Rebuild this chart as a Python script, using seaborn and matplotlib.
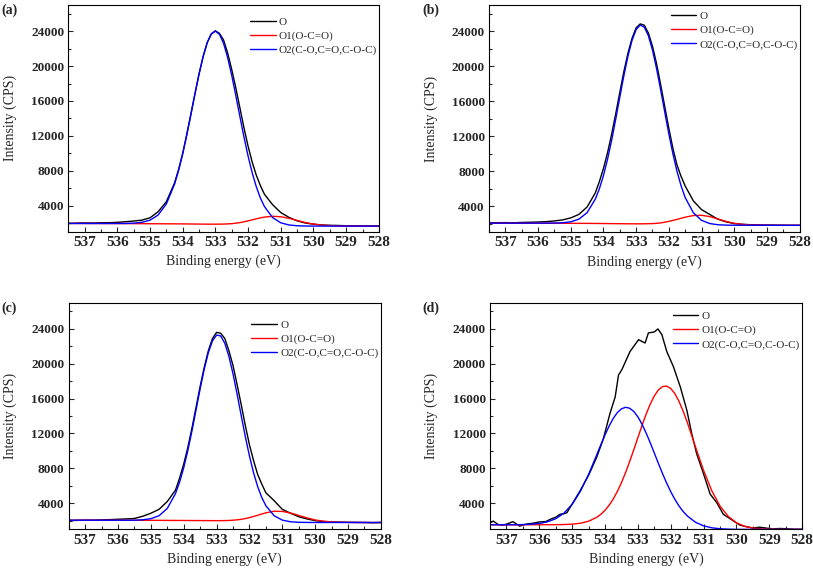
import numpy as np
import pandas as pd
import matplotlib
matplotlib.use('Agg')
import matplotlib.pyplot as plt
from matplotlib.ticker import MultipleLocator
import seaborn as sns

# binding energy grid (eV): finer steps across the main peak
energy = [537.5, 537.25, 537.0, 536.75, 536.5, 536.25, 536.0, 535.75, 535.5, 535.25,
          535.0, 534.75, 534.5, 534.25,
          534.125, 534.0, 533.875, 533.75, 533.625, 533.5, 533.375, 533.25, 533.125,
          533.0, 532.875, 532.75, 532.625, 532.5, 532.375, 532.25, 532.125, 532.0,
          531.875, 531.75, 531.625,
          531.5, 531.25, 531.0, 530.75, 530.5, 530.25, 530.0, 529.75, 529.5, 529.25,
          529.0, 528.75, 528.5, 528.25, 528.0]

# ---- (a) ----
a_O = [1960, 1990, 2010, 2000, 2030, 2040, 2080, 2150, 2230, 2330, 2600, 3300, 4450, 6600,
       8150, 10000, 12200, 14500, 16850, 19100, 21100, 22700, 23700, 24050, 23750, 23000,
       21500, 19600, 17500, 15200, 12900, 10800, 9000, 7500, 6300,
       5300, 4100, 3200, 2650, 2250, 2000, 1870, 1780, 1740, 1720, 1690, 1680, 1670, 1660, 1650]
a_O1 = [1950, 1950, 1950, 1945, 1945, 1940, 1940, 1935, 1930, 1925, 1920, 1915, 1910, 1905,
        1902, 1900, 1895, 1890, 1885, 1880, 1875, 1870, 1870, 1870, 1873, 1880, 1900, 1930,
        1980, 2050, 2140, 2250, 2365, 2480, 2590,
        2680, 2770, 2720, 2540, 2300, 2060, 1880, 1760, 1700, 1670, 1650, 1650, 1650, 1650, 1650]
a_O2 = [1950, 1950, 1950, 1950, 1950, 1950, 1950, 1950, 1990, 2080, 2325, 2925, 4190, 6455,
        8042, 9930, 12095, 14430, 16820, 19110, 21120, 22700, 23695, 24020, 23645, 22600,
        20980, 18930, 16615, 14200, 11850, 9670, 7772, 6175, 4882,
        3890, 2625, 2025, 1777, 1688, 1660, 1650, 1650, 1650, 1650, 1650, 1650, 1650, 1650, 1650]

# ---- (b) ----
b_O = [2080, 2100, 2110, 2090, 2130, 2150, 2180, 2220, 2300, 2420, 2650, 3050, 3900, 5500,
       6800, 8300, 10100, 12200, 14550, 17000, 19400, 21500, 23200, 24400, 24850, 24700,
       23800, 22300, 20300, 17900, 15400, 12900, 10600, 8700, 7400,
       6300, 4600, 3600, 3050, 2500, 2200, 2000, 1920, 1870, 1840, 1830, 1820, 1810, 1800, 1800]
b_O1 = [2050, 2050, 2050, 2048, 2046, 2044, 2042, 2040, 2038, 2035, 2030, 2025, 2020, 2015,
        2010, 2005, 2000, 1995, 1990, 1985, 1980, 1975, 1972, 1970, 1972, 1975, 1985, 2000,
        2030, 2080, 2155, 2250, 2360, 2480, 2605,
        2730, 2920, 2950, 2800, 2530, 2250, 2030, 1900, 1840, 1815, 1805, 1800, 1800, 1800, 1800]
b_O2 = [2050, 2050, 2050, 2050, 2050, 2050, 2050, 2050, 2060, 2095, 2200, 2510, 3250, 4785,
        5976, 7490, 9358, 11520, 13930, 16450, 18920, 21160, 22975, 24200, 24720, 24470,
        23490, 21860, 19741, 17310, 14766, 12280, 9990, 7985, 6318,
        4980, 3240, 2373, 2004, 1868, 1820, 1810, 1810, 1810, 1805, 1805, 1800, 1800, 1800, 1800]

# ---- (c) ----
c_O = [2000, 2030, 2060, 2050, 2090, 2120, 2160, 2200, 2250, 2500, 2850, 3300, 4200, 5500,
       6900, 8500, 10400, 12600, 15000, 17400, 19600, 21500, 22900, 23600, 23500, 22900,
       21500, 19800, 17600, 15300, 12900, 10700, 8900, 7300, 6200,
       5200, 4300, 3300, 2850, 2450, 2200, 2000, 1900, 1850, 1830, 1810, 1800, 1790, 1760, 1790]
c_O1 = [2050, 2050, 2049, 2048, 2047, 2046, 2045, 2044, 2043, 2042, 2040, 2035, 2030, 2025,
        2022, 2020, 2018, 2015, 2012, 2010, 2008, 2005, 2002, 2000, 2003, 2010, 2025, 2050,
        2095, 2150, 2245, 2350, 2480, 2620, 2760,
        2900, 3080, 3060, 2880, 2600, 2320, 2080, 1940, 1860, 1820, 1800, 1790, 1790, 1790, 1790]
c_O2 = [2050, 2050, 2050, 2050, 2050, 2050, 2050, 2050, 2050, 2100, 2222, 2566, 3402, 5115,
        6423, 8070, 10042, 12285, 14702, 17140, 19390, 21285, 22628, 23290, 23193, 22355,
        20853, 18850, 16508, 14045, 11639, 9420, 7499, 5911, 4658,
        3713, 2570, 2062, 1873, 1812, 1795, 1790, 1790, 1790, 1790, 1790, 1790, 1790, 1790, 1790]

# ---- (d) ----  measured spectrum read at its own points
energy_d = [537.5, 537.4, 537.25, 537.1, 537.0, 536.8, 536.6, 536.4, 536.2, 536.0,
            535.8, 535.67, 535.5, 535.37, 535.25, 535.16, 535.0, 534.76, 534.5, 534.25,
            534.05, 533.85, 533.69, 533.59, 533.49, 533.24, 532.98, 532.78, 532.68, 532.5,
            532.39, 532.27, 532.12, 531.92, 531.71, 531.51, 531.36, 531.21, 531.0, 530.8,
            530.6, 530.4, 530.09, 529.9, 529.75, 529.5, 529.3, 529.1, 528.9, 528.7,
            528.5, 528.3, 528.0]
d_O = [1750, 1950, 1550, 1500, 1600, 1880, 1370, 1600, 1700, 1850,
       1900, 2150, 2400, 2730, 2800, 2910, 3900, 5420, 7200, 9300,
       11400, 14290, 16200, 18700, 19300, 21400, 22760, 22380, 23540, 23650,
       24000, 23340, 21400, 19680, 17360, 14670, 11970, 9660, 7350, 5040,
       4070, 2730, 1960, 1500, 1350, 1150, 1250, 1150, 1050, 1100,
       1080, 1020, 1000]
d_O1 = [1530, 1530, 1530, 1530, 1530, 1530, 1530, 1535, 1540, 1555, 1599, 1704, 1933, 2384,
        2733, 3190, 3768, 4480, 5350, 6360, 7511, 8780, 10131, 11525, 12904, 14210, 15363,
        16310, 17001, 17380, 17442, 17160, 16575, 15700, 14592,
        13310, 10500, 7750, 5420, 3670, 2484, 1757, 1351, 1152, 1060, 1023, 1005, 1000, 1000, 1000]
d_O2 = [1530, 1530, 1530, 1530, 1554, 1590, 1677, 1863, 2223, 2858, 3877, 5366, 7310, 9570,
        10727, 11840, 12857, 13730, 14398, 14830, 15005, 14900, 14529, 13910, 13072, 12070,
        10948, 9760, 8566, 7400, 6315, 5325, 4448, 3694, 3067,
        2554, 1825, 1403, 1179, 1072, 1028, 1000, 1000, 1000, 1000, 1000, 1000, 1000, 1000, 1000]

series_names = ['O', 'O1(O-C=O)', 'O2(C-O,C=O,C-O-C)']
series_colors = ['black', 'red', 'blue']
panel_tags = ['(a)', '(b)', '(c)', '(d)']

sns.set_theme(style='ticks')
plt.rcParams['font.family'] = ['Liberation Serif', 'DejaVu Serif']
plt.rcParams['axes.linewidth'] = 0.8

fig = plt.figure(figsize=(8.13, 5.68), dpi=100)

panels = [
    ([0.084, 0.592, 0.382, 0.399], (energy, a_O), a_O1, a_O2, 0.948),
    ([0.6015, 0.591, 0.382, 0.400], (energy, b_O), b_O1, b_O2, 0.973),
    ([0.0845, 0.068, 0.384, 0.399], (energy, c_O), c_O1, c_O2, 0.925),
    ([0.6027, 0.068, 0.384, 0.399], (energy_d, d_O), d_O1, d_O2, 0.962),
]

for k, (rect, meas, o1, o2, leg_y) in enumerate(panels):
    ax = fig.add_axes(rect)
    sns.lineplot(x=meas[0], y=meas[1], ax=ax, color=series_colors[0], lw=1.0,
                 label=series_names[0], estimator=None)
    sns.lineplot(x=energy, y=o1, ax=ax, color=series_colors[1], lw=1.0,
                 label=series_names[1], estimator=None)
    sns.lineplot(x=energy, y=o2, ax=ax, color=series_colors[2], lw=1.0,
                 label=series_names[2], estimator=None)

    ax.set_xlim(537.5, 528)
    ax.set_ylim(1000, 27000)
    ax.xaxis.set_major_locator(MultipleLocator(1))
    ax.xaxis.set_minor_locator(MultipleLocator(0.5))
    ax.yaxis.set_minor_locator(MultipleLocator(2000))
    ax.set_yticks([4000, 8000, 12000, 16000, 20000, 24000])
    ax.tick_params(which='both', direction='in', width=0.8, top=False, right=False)
    ax.tick_params(which='major', length=3.5)
    ax.tick_params(which='minor', length=2)
    ax.tick_params(axis='x', labelsize=11, pad=3)
    ax.tick_params(axis='y', labelsize=9.5, pad=3)
    for lab in ax.get_xticklabels() + ax.get_yticklabels():
        lab.set_fontweight('bold')
    for s in ax.spines.values():
        s.set_visible(True)
        s.set_linewidth(0.8)
        s.set_color('black')

    ax.set_xlabel('Binding energy (eV)', fontsize=10)
    ax.set_ylabel('Intensity (CPS)', fontsize=10)
    ax.xaxis.set_label_coords(0.5, -0.10)
    ax.yaxis.set_label_coords(-0.165, 0.5)

    ax.legend(loc='upper left', bbox_to_anchor=(0.585, leg_y), frameon=False,
              fontsize=8, borderpad=0, borderaxespad=0, handlelength=2.3,
              handletextpad=0.3, labelspacing=0.38)

    ax.text(-0.215, 1.005, panel_tags[k], transform=ax.transAxes, fontsize=10,
            fontweight='bold', ha='left', va='top')

fig.savefig('out.png', dpi=100)
